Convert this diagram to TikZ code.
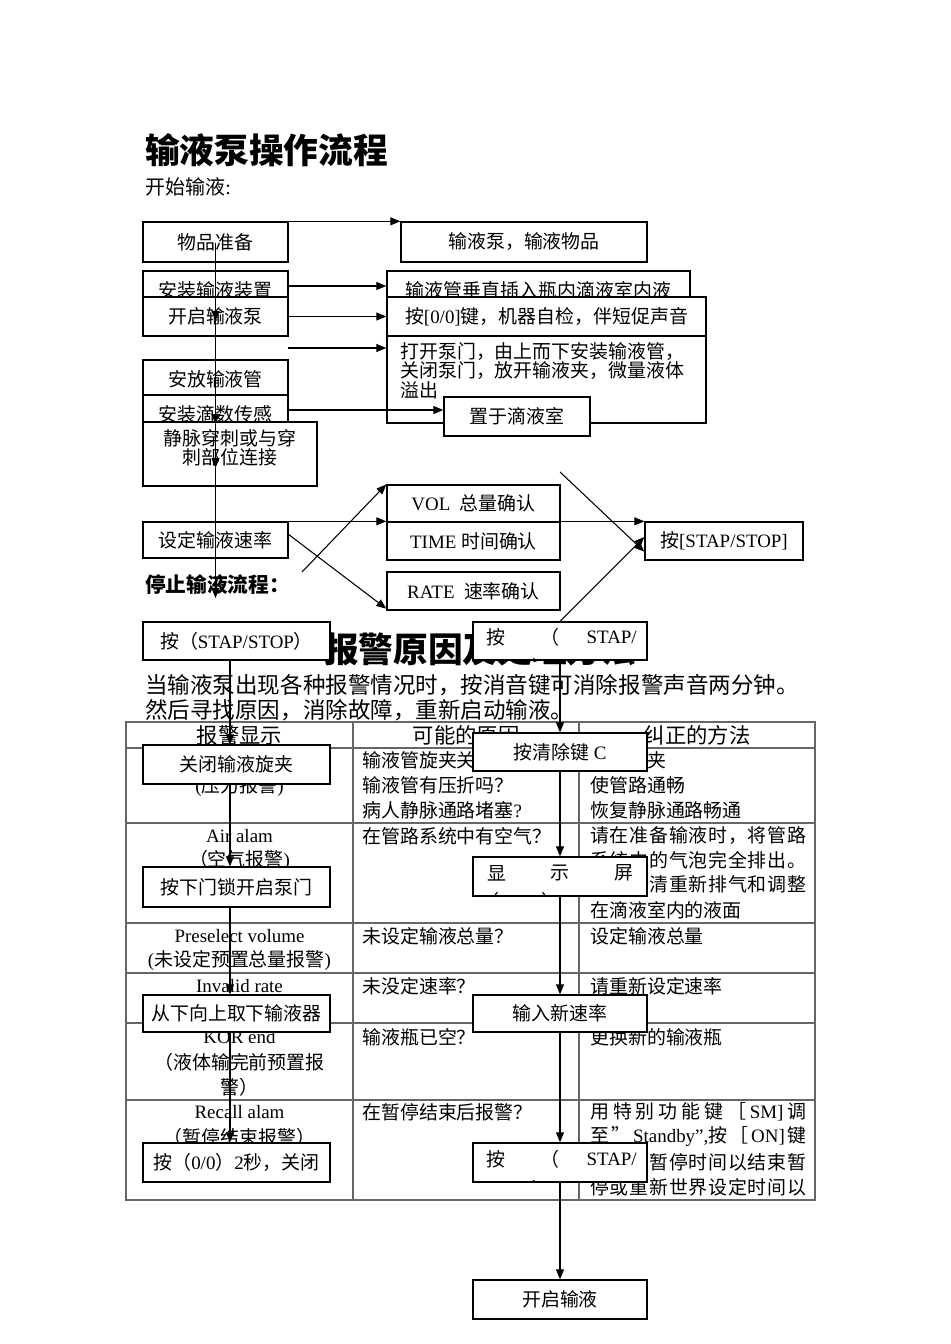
\documentclass[tikz,border=0pt]{standalone}
\usepackage{fontspec}
\setmainfont{Liberation Serif}
\newfontfamily\cjk{Noto Sans CJK SC}
\usetikzlibrary{arrows.meta}
\XeTeXinterchartokenstate=1
\newXeTeXintercharclass\cjkcls
\makeatletter
\count@="4E00
\loop\XeTeXcharclass\count@=\cjkcls\advance\count@\@ne\ifnum\count@<"A000\repeat
\count@="3000
\loop\XeTeXcharclass\count@=\cjkcls\advance\count@\@ne\ifnum\count@<"3040\repeat
\count@="FF00
\loop\XeTeXcharclass\count@=\cjkcls\advance\count@\@ne\ifnum\count@<"FFF0\repeat
\XeTeXcharclass"201C=\cjkcls
\XeTeXcharclass"201D=\cjkcls
\makeatother
\newcommand\latf{\fontfamily{\rmdefault}\selectfont}
\XeTeXinterchartoks 0 \cjkcls = {\cjk}
\XeTeXinterchartoks 4095 \cjkcls = {\cjk}
\XeTeXinterchartoks \cjkcls 0 = {\latf}
\XeTeXinterchartoks \cjkcls 4095 = {\latf}
\newcommand\fb{\fontsize{14.2}{17}\selectfont}
\newcommand\g{\hskip 0pt plus 1fil\relax}
\newcommand\jl[1]{\hbox to 162pt{#1}}
\tikzset{
  bx/.style={draw, line width=1pt, fill=white, inner sep=0pt, font=\fb},
  wh/.style 2 args={minimum width=#1*0.75pt, minimum height=#2*0.75pt},
  arr/.style={line width=0.8pt, -{Triangle[length=7.5pt,width=6pt]}},
  tb/.style={line width=0.8pt, draw=black!60},
  tx/.style={inner sep=0pt, font=\fb},
  tl/.style={inner sep=0pt, font=\fb, anchor=west},
  th/.style={inner sep=0pt, font=\fontsize{16}{19}\selectfont},
}
\begin{document}
\begin{tikzpicture}[x=0.75pt,y=-0.75pt]
\path[use as bounding box] (0,0) rectangle (950,1344);

% headings
\node[anchor=west, inner sep=0pt, font=\bfseries\fontsize{26}{30}\selectfont] (title) at (145,150) {输液泵操作流程};
\node[anchor=west, inner sep=0pt, font=\fontsize{15}{18}\selectfont] (start) at (145,187) {开始输液:};
\node[inner sep=0pt, font=\bfseries\fontsize{26}{30}\selectfont] (head2) at (480,649) {报警原因及处理方法};
\node[anchor=west, inner sep=0pt, font=\fontsize{16.9}{20}\selectfont] (para1) at (145,685) {当输液泵出现各种报警情况时，按消音键可消除报警声音两分钟。};
\node[anchor=west, inner sep=0pt, font=\fontsize{16.9}{20}\selectfont] (para2) at (145,710) {然后寻找原因，消除故障，重新启动输液。};

% table
\draw[tb] (126,722) rectangle (815,1200);
\foreach \yy in {748,823,923,973,1023,1100} \draw[tb] (126,\yy) -- (815,\yy);
\draw[tb] (353,722) -- (353,1200);
\draw[tb] (579,722) -- (579,1200);
\node[th] (h1) at (239.5,735) {报警显示};
\node[th] (h2) at (466,735) {可能的原因};
\node[th] (h3) at (697,735) {纠正的方法};
% row 1
\node[tx] (a1) at (239.5,787) {(压力报警)};
\node[tl] (b1a) at (362,760) {输液管旋夹关闭？};
\node[tl] (b1b) at (362,785) {输液管有压折吗？};
\node[tl] (b1c) at (362,810) {病人静脉通路堵塞?};
\node[tl] (c1a) at (590,760) {打开旋夹};
\node[tl] (c1b) at (590,785) {使管路通畅};
\node[tl] (c1c) at (590,810) {恢复静脉通路畅通};
% row 2
\node[tx] (a2a) at (239.5,836) {Air alam};
\node[tx] (a2b) at (239.5,860) {（空气报警)};
\node[tl] (b2a) at (362,836) {在管路系统中有空气？};
\node[tl] (c2a) at (590,836) {\jl{请\g 在\g 准\g 备\g 输\g 液\g 时\g ，\g 将\g 管\g 路}};
\node[tl] (c2b) at (590,860) {\jl{系\g 统\g 中\g 的\g 气\g 泡\g 完\g 全\g 排\g 出\g 。}};
\node[tl] (c2c) at (590,885) {\jl{否\g 则\g ，\g 清\g 重\g 新\g 排\g 气\g 和\g 调\g 整}};
\node[tl] (c2d) at (590,910) {在滴液室内的液面};
% row 3
\node[tx] (a3a) at (239.5,936) {Preselect volume};
\node[tx] (a3b) at (239.5,960) {(未设定预置总量报警)};
\node[tl] (b3a) at (362,936) {未设定输液总量？};
\node[tl] (c3a) at (590,936) {设定输液总量};
% row 4
\node[tx] (a4a) at (239.5,986) {Invalid rate};
\node[tl] (b4a) at (362,986) {未没定速率？};
\node[tl] (c4a) at (590,986) {请重新设定速率};
% row 5
\node[tx] (a5a) at (239.5,1037) {KOR end};
\node[tx] (a5b) at (239.5,1062) {（液体输完前预置报};
\node[tx] (a5c) at (239.5,1087) {警）};
\node[tl] (b5a) at (362,1037) {输液瓶已空？};
\node[tl] (c5a) at (590,1037) {更换新的输液瓶};
% row 6
\node[tx] (a6a) at (239.5,1112) {Recall alam};
\node[tx] (a6b) at (239.5,1137) {（暂停结束报警）};
\node[tl] (b6a) at (362,1112) {在暂停结束后报警？};
\node[tl] (c6a) at (590,1112) {\jl{用\g 特\g 别\g 功\g 能\g 键\g ［\g SM]\g 调}};
\node[tl] (c6b) at (590,1137) {\jl{至\g ”\g Standby",按\g ［\g ON]\g 键}};
\node[tl] (c6c) at (590,1162) {\jl{以\g 清\g 除\g 暂\g 停\g 时\g 间\g 以\g 结\g 束\g 暂}};
\node[tl] (c6d) at (590,1187) {\jl{停\g 或\g 重\g 新\g 世\g 界\g 设\g 定\g 时\g 间\g 以}};

% ===== start flow boxes =====
\node[bx, wh={145}{40}] (A) at (215.5,242) {物品准备};
\node[bx, wh={246}{40}] (B) at (524,242) {输液泵，输液物品};
\node[bx, wh={145}{38}] (C) at (215.5,290) {安装输液装置};
\node[bx, wh={145}{39}] (D) at (215.5,316.5) {开启输液泵};
\node[bx, wh={303}{38}] (E) at (538.5,290) {输液管垂直插入瓶内滴液室内液};
\node[bx, wh={319}{39}] (F) at (546.5,316.5) {按[0/0]键，机器自检，伴短促声音};
\node[bx, wh={319}{87}] (G) at (546.5,379.5) {};
\node[tx, anchor=north west, align=left, font=\fontsize{14.2}{14.6}\selectfont] (Gt) at (400,342) {打开泵门，由上而下安装输液管，\\关闭泵门，放开输液夹，微量液体\\溢出};
\node[bx, wh={146}{39}] (K) at (517,416.5) {置于滴液室};
\node[bx, wh={145}{38}] (H) at (215.5,379) {安放输液管};
\node[bx, wh={145}{38}] (I) at (215.5,414) {安装滴数传感};
\node[bx, wh={174}{64}] (J) at (230,454) {};
\node[tx, anchor=north, align=center, font=\fontsize{14.2}{14.3}\selectfont] (Jt) at (230,429) {静脉穿刺或与穿\\刺部位连接};
\node[bx, wh={173}{37}] (VOL) at (473.5,503.5) {VOL\ \ 总量确认};
\node[bx, wh={173}{38}] (TIME) at (473.5,541) {TIME 时间确认};
\node[bx, wh={173}{38}] (RATE) at (473.5,591) {RATE\ \ 速率确认};
\node[bx, wh={158}{38}] (STAP) at (724,541) {按[STAP/STOP]};
\node[bx, wh={145}{36}] (SET) at (215.5,540) {设定输液速率};
\node[anchor=west, inner sep=0pt, font=\bfseries\fontsize{15.5}{18}\selectfont] (stoph) at (145,585) {停止输液流程：};

% start flow connectors
\coordinate (v0) at (215.5,243);
\coordinate (v1) at (215.5,321);
\coordinate (v2) at (215.5,424);
\coordinate (v3) at (215.5,468);
\coordinate (v4) at (215.5,598);
\draw[arr] (v0) -- (v1);
\draw[arr] (v1) -- (v2);
\draw[arr] (v2) -- (v3);
\draw[arr] (v3) -- (v4);
\draw[arr] (A.north east) -- (B.north west);
\draw[arr] ([yshift=3pt]C.east) -- ([yshift=3pt]C.east -| E.west);
\draw[arr] (D.east) -- (F.west);
\coordinate (g0) at (288,348);
\draw[arr] (g0) -- (g0 -| G.west);
\draw[arr] ([yshift=3pt]I.east) -- ([yshift=3pt]I.east -| K.west);
\draw[arr] (SET.north east) -- (TIME.north west);
\draw[arr] (TIME.north east) -- (STAP.north west);
\coordinate (d1) at (288,534);
\draw[arr] (d1) -- ([yshift=1.5pt]RATE.south west);
\coordinate (d2) at (302,572);
\draw[arr] (d2) -- (VOL.north west);
\coordinate (d3) at (560,472);
\draw[arr] (d3) -- ([yshift=-8pt]STAP.west);

% ===== stop flow connectors =====
\node[bx, wh={187}{38}] (P1) at (236.5,641) {};
\node[bx, wh={174}{38}] (P2) at (560,641) {};
\node[bx, wh={187}{39}] (L2) at (236.5,764.5) {};
\node[bx, wh={187}{40}] (L3) at (236.5,887) {};
\node[bx, wh={187}{37}] (L4) at (236.5,1013.5) {};
\node[bx, wh={187}{39}] (L5) at (236.5,1162.5) {};
\node[bx, wh={174}{38}] (R2) at (560,752) {};
\node[bx, wh={174}{39}] (R3) at (560,876.5) {};
\node[bx, wh={174}{37}] (R4) at (560,1013.5) {};
\node[bx, wh={174}{39}] (R5) at (560,1162.5) {};
\node[bx, wh={174}{39}] (R6) at (560,1299.5) {};

\draw[arr] (P2.north) -- ([yshift=3pt]STAP.west);
\draw[arr] ([xshift=-4.9pt]P1.south) -- ([xshift=-4.9pt]L2.north);
\draw[arr] ([xshift=-4.9pt]L2.south) -- ([xshift=-4.9pt]L3.north);
\draw[arr] ([xshift=-4.9pt]L3.south) -- ([xshift=-4.9pt]L4.north);
\draw[arr] ([xshift=-4.9pt]L4.south) -- ([xshift=-4.9pt]L5.north);
\draw[arr] (P2.south) -- (R2.north);
\draw[arr] (R2.south) -- (R3.north);
\draw[arr] (R3.south) -- (R4.north);
\draw[arr] (R4.south) -- (R5.north);
\draw[arr] (R5.south) -- (R6.north);

% stop flow boxes (drawn over connectors)
\node[bx, wh={187}{38}] (P1b) at (236.5,641) {按（STAP/STOP）};
\node[bx, wh={187}{39}] (L2b) at (236.5,764.5) {关闭输液旋夹};
\node[bx, wh={187}{40}] (L3b) at (236.5,887) {按下门锁开启泵门};
\node[bx, wh={187}{37}] (L4b) at (236.5,1013.5) {从下向上取下输液器};
\node[bx, wh={187}{39}] (L5b) at (236.5,1162.5) {按（0/0）2秒，关闭};
\node[bx, wh={174}{38}] (R2b) at (560,752) {按清除键 C};
\node[bx, wh={174}{37}] (R4b) at (560,1013.5) {输入新速率};
\node[bx, wh={174}{39}] (R6b) at (560,1299.5) {开启输液};
\node[bx, wh={174}{38}] (P2b) at (560,641) {};
\begin{scope}
\clip ([shift={(0.6pt,0.6pt)}]P2b.south west) rectangle ([shift={(-0.6pt,-0.6pt)}]P2b.north east);
\node[tx, anchor=west] (p2a) at (486,637) {按};
\node[tx] (p2b) at (550,637) {（};
\node[tx, anchor=east] (p2c) at (637,637) {STAP/};
\node[tx, anchor=west] (p2d) at (486,667) {STOP）};
\end{scope}
\node[bx, wh={174}{39}] (R3b) at (560,876.5) {};
\begin{scope}
\clip ([shift={(0.6pt,0.6pt)}]R3b.south west) rectangle ([shift={(-0.6pt,-0.6pt)}]R3b.north east);
\node[tx, anchor=west] (r3a) at (487,873) {显};
\node[tx] (r3b) at (560,873) {示};
\node[tx, anchor=east] (r3c) at (634,873) {屏};
\node[tx, anchor=west] (r3d) at (480,901) {（000.0）};
\end{scope}
\node[bx, wh={174}{39}] (R5b) at (560,1162.5) {};
\begin{scope}
\clip ([shift={(0.6pt,0.6pt)}]R5b.south west) rectangle ([shift={(-0.6pt,-0.6pt)}]R5b.north east);
\node[tx, anchor=west] (r5a) at (486,1159) {按};
\node[tx] (r5b) at (550,1159) {（};
\node[tx, anchor=east] (r5c) at (637,1159) {STAP/};
\node[tx, anchor=west] (r5d) at (486,1189) {STOP）};
\end{scope}
\end{tikzpicture}
\end{document}
